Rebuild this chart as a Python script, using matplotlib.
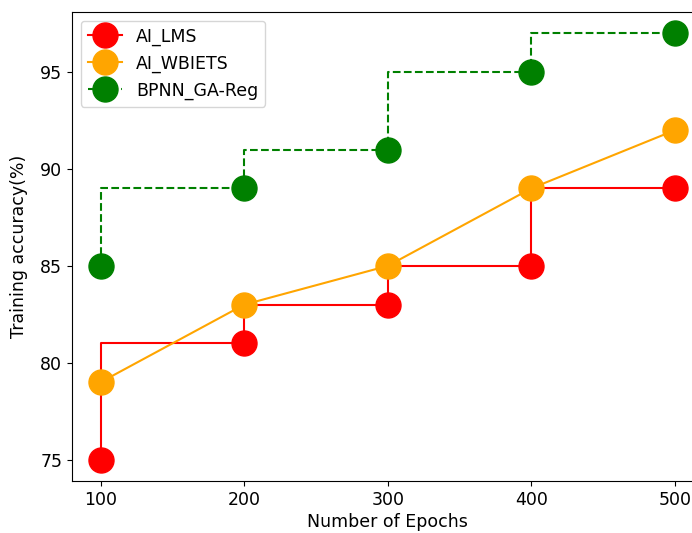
import matplotlib
matplotlib.use('Agg')
import matplotlib.pyplot as plt

epochs = [100, 200, 300, 400, 500]
ai_lms = [75, 81, 83, 85, 89]
ai_wbiets = [79, 83, 85, 89, 92]
bpnn_ga_reg = [85, 89, 91, 95, 97]

plt.rcParams['font.size'] = 12.5

fig = plt.figure(figsize=(6.92, 5.33), dpi=100)
# axes run past the right edge, as in the cropped reference
ax = fig.add_axes([0.104, 0.0976, 0.913, 0.88])

ax.step(epochs, ai_lms, where='pre', color='red', marker='o', markersize=18,
        label='AI_LMS')
ax.plot(epochs, ai_wbiets, color='orange', marker='o', markersize=18,
        label='AI_WBIETS')
ax.step(epochs, bpnn_ga_reg, where='pre', color='green', linestyle='--',
        marker='o', markersize=18, label='BPNN_GA-Reg')

ax.set_xticks(epochs)
ax.set_yticks([75, 80, 85, 90, 95])
ax.set_xlabel('Number of Epochs', labelpad=3)
ax.set_ylabel('Training accuracy(%)', labelpad=9)
ax.legend(loc='upper left')

fig.savefig('out.png', dpi=100)
